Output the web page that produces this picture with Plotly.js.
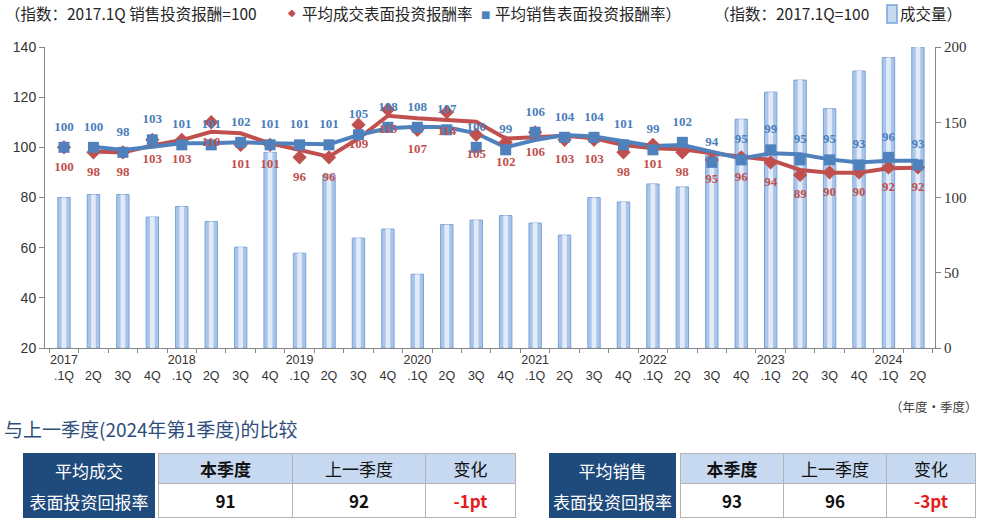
<!DOCTYPE html>
<html>
<head>
<meta charset="utf-8">
<script src="https://cdn.plot.ly/plotly-3.0.1.min.js"></script>
<style>
  html, body { margin: 0; padding: 0; background: #ffffff; }
  #wrap { position: relative; width: 983px; height: 529px; overflow: hidden; }
  #chart { position: absolute; left: 0; top: 0; width: 983px; height: 529px; }
  .cell { position: absolute; box-sizing: border-box; display: flex; align-items: center; justify-content: center;
          font-family: "Noto Sans CJK SC", "Noto Sans", sans-serif; font-size: 17px; color: #111; }
  .dark { background: #1f4a7c; color: #ffffff; flex-direction: column; line-height: 31px; }
  .head { background: #c6d9f1; border: 1px solid #b3b3b3; }
  .body { background: #ffffff; border: 1px solid #b3b3b3; font-weight: bold; }
  .bold { font-weight: bold; }
  .neg { color: #e31b1b; }
</style>
</head>
<body>
<div id="wrap">
  <div id="chart"></div>
</div>
<script>
// ---------------- data ----------------
const quarters = [
  '2017.1Q','2017.2Q','2017.3Q','2017.4Q',
  '2018.1Q','2018.2Q','2018.3Q','2018.4Q',
  '2019.1Q','2019.2Q','2019.3Q','2019.4Q',
  '2020.1Q','2020.2Q','2020.3Q','2020.4Q',
  '2021.1Q','2021.2Q','2021.3Q','2021.4Q',
  '2022.1Q','2022.2Q','2022.3Q','2022.4Q',
  '2023.1Q','2023.2Q','2023.3Q','2023.4Q',
  '2024.1Q','2024.2Q'
];
// 成交量 index (right axis)
const volume = [100,102,102,87,94,84,67,130,63,115,73,79,49,82,85,88,83,75,100,97,109,107,128,152,170,178,159,184,193,200];
// 平均成交表面投资报酬率 (markers + labels)
const dealRate = [100,98,98,103,103,110,101,101,96,96,109,115,107,114,105,102,106,103,103,98,101,98,95,96,94,89,90,90,92,92];
// 平均销售表面投资报酬率 (markers + labels)
const salesRate = [100,100,98,103,101,101,102,101,101,101,105,108,108,107,100,99,106,104,104,101,99,102,94,95,99,95,95,93,96,93];
// smoothed trend lines as drawn
const dealTrend = [null,98.3,97.9,100.7,102.9,106.2,105.6,101.6,98.9,96.3,103.5,112.6,111.6,110.9,110.2,103.5,104,104.6,103.6,100.9,99.6,99.2,97.6,96.3,95,91,89.9,89.9,91.7,91.9];
const salesTrend = [null,100.2,98.9,100.2,101.6,101.6,102,101.6,101.2,101.2,104.9,107.6,108.2,108,105.6,100,102.9,104.9,104.3,102.3,100.5,100.9,98.3,95.6,97.6,97.2,95.2,94,94.7,94.7];

// comparison tables
const tableTitles = [['平均成交','表面投资回报率'], ['平均销售','表面投资回报率']];
const tableHeaders = ['本季度','上一季度','变化'];
const currentValues = [91, 93];
const previousValues = [92, 96];
const changeValues = ['-1pt', '-3pt'];

// ---------------- helpers ----------------
const L = 45, R = 48, T = 47, B = 181, W = 983, H = 529;
const pw = W - L - R, ph = H - T - B;
const px = p => (p - L) / pw;
const py = p => (H - B - p) / ph;

const tickText = quarters.map(q => {
  const [yr, qq] = q.split('.');
  return qq === '1Q' ? yr + '<br>.1Q' : ' <br>' + qq;
});

const RED = '#c0504d', BLUE = '#4f81bd';
const labelFont = (c) => ({ family: 'Liberation Serif, DejaVu Serif, serif', size: 13, color: c, weight: 'bold' });

const traces = [
  // volume bars on the primary (right-side) axis, drawn underneath
  { type: 'bar', x: quarters, y: volume, yaxis: 'y', width: 0.42,
    marker: { color: '#a9c5ea', line: { color: '#7aa2d6', width: 1 } }, hoverinfo: 'skip', showlegend: false },
  { type: 'bar', x: quarters, y: volume, yaxis: 'y', width: 0.16,
    marker: { color: '#e2ebf7', line: { width: 0 } }, hoverinfo: 'skip', showlegend: false },
  // rate series on the overlaying (left-side) axis, drawn on top
  { type: 'scatter', mode: 'lines', x: quarters, y: dealTrend, yaxis: 'y2', line: { color: RED, width: 4 }, showlegend: false },
  { type: 'scatter', mode: 'lines', x: quarters, y: salesTrend, yaxis: 'y2', line: { color: BLUE, width: 4 }, showlegend: false },
  { type: 'scatter', mode: 'markers', x: quarters, y: dealRate, yaxis: 'y2',
    marker: { symbol: 'diamond', size: 11, color: RED }, showlegend: false },
  { type: 'scatter', mode: 'markers', x: quarters, y: salesRate, yaxis: 'y2',
    marker: { symbol: 'square', size: 11, color: BLUE }, showlegend: false },
  // data labels (invisible larger markers push labels a bit away from the points)
  { type: 'scatter', mode: 'markers+text', x: quarters, y: dealRate, yaxis: 'y2', text: dealRate.map(String),
    textposition: 'bottom center', textfont: labelFont('#c0504d'),
    marker: { size: 20, opacity: 0 }, showlegend: false, hoverinfo: 'skip' },
  { type: 'scatter', mode: 'markers+text', x: quarters, y: salesRate, yaxis: 'y2', text: salesRate.map(String),
    textposition: 'top center', textfont: labelFont('#4a7ebb'),
    marker: { size: 20, opacity: 0 }, showlegend: false, hoverinfo: 'skip' }
];

const hdrFont = { family: 'Noto Sans CJK SC, sans-serif', size: 15.5, color: '#262626' };
const annotations = [
  { text: '（指数：2017.1Q 销售投资报酬=100', x: px(3), y: py(13), xanchor: 'left', font: hdrFont },
  { text: '◆', x: px(292), y: py(13), xanchor: 'center', font: { family: 'DejaVu Sans', size: 10, color: RED } },
  { text: '平均成交表面投资报酬率', x: px(300), y: py(13), xanchor: 'left', font: hdrFont },
  { text: '■', x: px(485), y: py(14), xanchor: 'center', font: { family: 'DejaVu Sans', size: 10, color: BLUE } },
  { text: '平均销售表面投资报酬率）', x: px(493), y: py(13), xanchor: 'left', font: hdrFont },
  { text: '（指数：2017.1Q=100', x: px(712), y: py(13), xanchor: 'left', font: hdrFont },
  { text: '成交量）', x: px(898), y: py(13), xanchor: 'left', font: hdrFont },
  { text: '（年度·季度）', x: px(980), y: py(406), xanchor: 'right',
    font: { family: 'Noto Sans CJK SC, sans-serif', size: 12.5, color: '#404040' } },
  { text: '与上一季度(2024年第1季度)的比较', x: px(2), y: py(428), xanchor: 'left',
    font: { family: 'Noto Sans CJK SC, sans-serif', size: 19, color: '#2e4d7b' } }
].map(a => Object.assign({ xref: 'paper', yref: 'paper', yanchor: 'middle', showarrow: false }, a));

const shapes = [
  { type: 'rect', xref: 'paper', yref: 'paper', x0: px(887), x1: px(897), y0: py(23), y1: py(5),
    fillcolor: '#c6d9f1', line: { color: '#7aa2d6', width: 1.5 } }
];

const axisCommon = {
  ticks: 'outside', ticklen: 5, tickcolor: '#868686',
  showline: true, linecolor: '#868686', linewidth: 1, showgrid: false, zeroline: false
};

const layout = {
  width: W, height: H,
  margin: { l: L, r: R, t: T, b: B, pad: 0 },
  paper_bgcolor: '#ffffff', plot_bgcolor: '#ffffff',
  barmode: 'overlay',
  showlegend: false,
  xaxis: {
    type: 'category', range: [-0.645, 29.58],
    tickmode: 'array', tickvals: quarters, ticktext: tickText,
    tickson: 'boundaries', ticks: 'outside', ticklen: 4, tickcolor: '#868686',
    showline: true, linecolor: '#868686', linewidth: 1, showgrid: false, zeroline: false,
    tickangle: 0, tickfont: { family: 'Liberation Sans, Arial, sans-serif', size: 12.5, color: '#333333' }
  },
  yaxis: Object.assign({
    side: 'right', range: [0, 200], dtick: 50,
    tickfont: { family: 'Liberation Serif, serif', size: 15, color: '#333333' }
  }, axisCommon),
  yaxis2: Object.assign({
    overlaying: 'y', side: 'left', range: [20, 140], dtick: 20, tick0: 20,
    tickfont: { family: 'Liberation Sans, Arial, sans-serif', size: 14, color: '#333333' }
  }, axisCommon),
  annotations: annotations,
  shapes: shapes
};

Plotly.newPlot('chart', traces, layout, { displayModeBar: false, staticPlot: true });

// ---------------- comparison tables ----------------
const wrap = document.getElementById('wrap');
function cell(cls, left, top, w, h, html) {
  const d = document.createElement('div');
  d.className = 'cell ' + cls;
  d.style.left = left + 'px'; d.style.top = top + 'px';
  d.style.width = w + 'px'; d.style.height = h + 'px';
  d.innerHTML = html;
  wrap.appendChild(d);
}
const tableGeom = [
  { dark: [23, 155], cols: [158, 292, 425, 515] },
  { dark: [549, 676], cols: [680, 783, 886, 975] }
];
const top0 = 453, mid = 483, bot = 518;
tableGeom.forEach((g, t) => {
  cell('dark', g.dark[0], top0, g.dark[1] - g.dark[0], bot - top0,
       '<span>' + tableTitles[t][0] + '</span><span>' + tableTitles[t][1] + '</span>');
  const vals = [String(currentValues[t]), String(previousValues[t]), changeValues[t]];
  for (let c = 0; c < 3; c++) {
    const x0 = g.cols[c], w = g.cols[c + 1] - g.cols[c] + 1;
    cell('head' + (c === 0 ? ' bold' : ''), x0, top0, w, mid - top0 + 1, tableHeaders[c]);
    cell('body' + (c === 2 ? ' neg' : ''), x0, mid, w, bot - mid, vals[c]);
  }
});
</script>
</body>
</html>
